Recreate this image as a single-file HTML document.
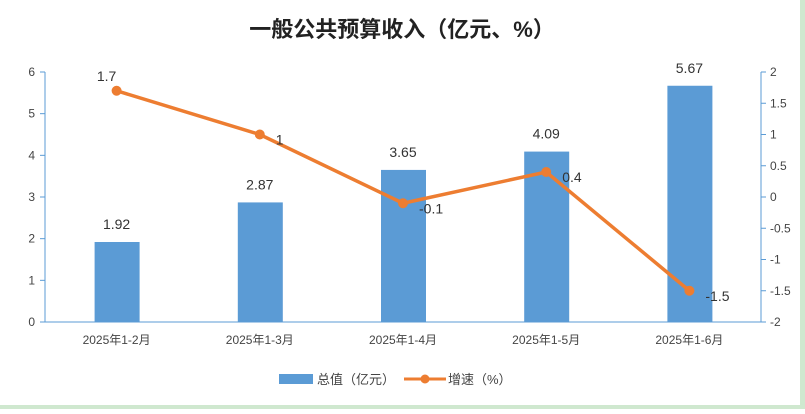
<!DOCTYPE html>
<html><head><meta charset="utf-8"><style>
body{margin:0;background:#fff}
svg text{font-family:"Liberation Sans","Noto Sans CJK SC",sans-serif}
</style></head><body>
<svg id="c" width="805" height="409">
<rect x="0" y="405" width="805" height="4" fill="#cfe8cf"/>
<rect x="800" y="0" width="5" height="409" fill="#cfe8cf"/>
<text x="402" y="37" text-anchor="middle" font-size="22" font-weight="bold" fill="#222">一般公共预算收入（亿元、%）</text>
<g id="g"></g>
</svg>
<script>
const categories=["2025年1-2月","2025年1-3月","2025年1-4月","2025年1-5月","2025年1-6月"];
const totals=[1.92,2.87,3.65,4.09,5.67];
const growth=[1.7,1,-0.1,0.4,-1.5];
const leftTicks=[0,1,2,3,4,5,6];
const rightTicks=[2,1.5,1,0.5,0,-0.5,-1,-1.5,-2];
const NS="http://www.w3.org/2000/svg",g=document.getElementById('g');
const X0=45,X1=761,Y0=322,Y1=72;
const xC=i=>X0+(X1-X0)*(i+0.5)/categories.length;
const yL=v=>Y0-(Y0-Y1)*v/6;
const yR=v=>Y0-(Y0-Y1)*(v+2)/4;
function el(t,a,txt){const e=document.createElementNS(NS,t);for(const k in a)e.setAttribute(k,a[k]);if(txt!==undefined)e.textContent=txt;g.appendChild(e);return e;}
let e;
e=el('line',{x1:X0,y1:Y1,x2:X0,y2:Y0,stroke:'#5b9bd5'});


e=el('line',{x1:X1,y1:Y1,x2:X1,y2:Y0,stroke:'#5b9bd5'});


leftTicks.forEach(v=>{
 e=el('line',{x1:X0-5,y1:yL(v),x2:X0,y2:yL(v),stroke:'#5b9bd5'});
 
 
 e=el('text',{x:X0-10,y:yL(v)+4,'text-anchor':'end','font-size':12,fill:'#444'},v);
 
 
});
rightTicks.forEach(v=>{
 e=el('line',{x1:X1,y1:yR(v),x2:X1+5,y2:yR(v),stroke:'#5b9bd5'});
 
 
 e=el('text',{x:X1+9,y:yR(v)+4,'font-size':12,fill:'#444'},v);
 
 
});
totals.forEach((v,i)=>{
 e=el('rect',{x:xC(i)-22,y:yL(v),width:45,height:Y0-yL(v),fill:'#5b9bd5'});
 
 
 e=el('text',{x:xC(i),y:yL(v)-13,'text-anchor':'middle','font-size':14,fill:'#333'},v);
 
 
 e=el('text',{x:xC(i),y:Y0+22,'text-anchor':'middle','font-size':12,fill:'#444'},categories[i]);
 
 
});
e=el('line',{x1:X0,y1:Y0,x2:X1,y2:Y0,stroke:'#5b9bd5'});


e=el('polyline',{points:growth.map((v,i)=>xC(i)+','+yR(v)).join(' '),fill:'none',stroke:'#ed7d31','stroke-width':3.5});


growth.forEach((v,i)=>{
 e=el('circle',{cx:xC(i),cy:yR(v),r:5,fill:'#ed7d31'});
 
 
 const above=i==0;
 e=el('text',{x:above?xC(i)-10:xC(i)+16,y:above?yR(v)-10:yR(v)+10,'text-anchor':above?'middle':'start','font-size':14,fill:'#333'},v);
 
 
});
e=el('rect',{x:279,y:374,width:34,height:10,fill:'#5b9bd5'});


e=el('text',{x:317,y:384,'font-size':13,fill:'#444'},'总值（亿元）');


e=el('line',{x1:404,y1:379,x2:446,y2:379,stroke:'#ed7d31','stroke-width':3});


e=el('circle',{cx:425,cy:379,r:4.5,fill:'#ed7d31'});


e=el('text',{x:448,y:384,'font-size':13,fill:'#444'},'增速（%）');


</script>
</body></html>
